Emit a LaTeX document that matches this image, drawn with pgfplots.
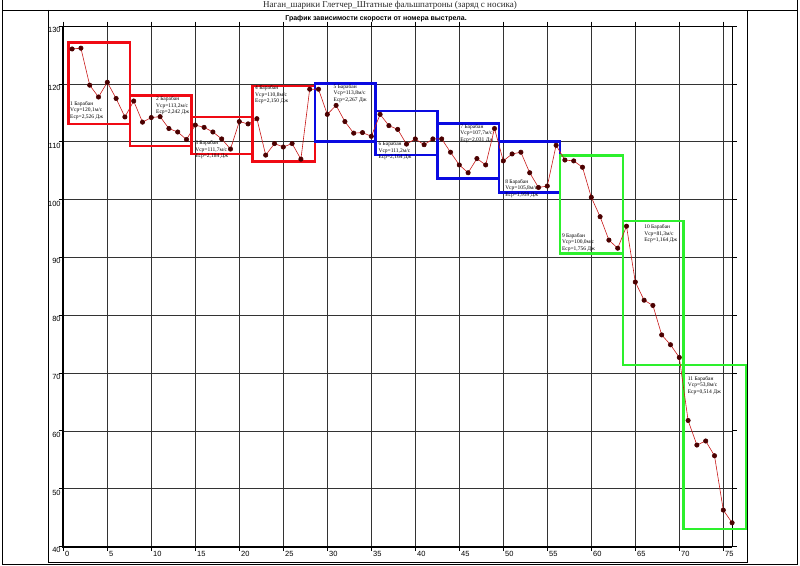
\documentclass[border=0pt]{standalone}
\usepackage{fontspec}
\setmainfont{Liberation Serif}
\newfontfamily\sansf{Liberation Sans}
\usepackage{pgfplots}
\pgfplotsset{compat=1.18}
\definecolor{boxred}{RGB}{240,10,20}
\definecolor{boxblue}{RGB}{10,10,225}
\definecolor{boxgreen}{RGB}{45,240,45}
\definecolor{lnred}{RGB}{200,25,25}
\definecolor{mk}{RGB}{75,0,0}
\begin{document}
\begin{tikzpicture}[x=1pt,y=1pt]
\useasboundingbox (0,0) rectangle (800,565);
\draw[line width=0.8pt] (2,1) rectangle (797.5,567);
\draw[line width=0.8pt] (2,555) -- (797.5,555);
\draw[line width=0.8pt] (48,555) -- (48,2.5) -- (747,2.5) -- (747,555);
\node[font=\fontsize{9}{10}\selectfont, text=black!85] at (390,559.5) {Наган\_шарики Глетчер\_Штатные фальшпатроны (заряд с носика)};
\node[font=\sansf\bfseries\fontsize{7}{8}\selectfont] at (376,546) {График зависимости скорости от номера выстрела.};
\begin{axis}[at={(63.3pt,18.5pt)}, anchor=south west, scale only axis,
  width=668.8pt, height=520.3pt,
  xmin=0, xmax=76, ymin=40, ymax=130,
  xtick={0,5,...,75}, ytick={40,50,...,130},
  grid=major, grid style={black!80, line width=0.7pt},
  axis line style={black, line width=0.7pt},
  tick align=outside, major tick length=4.5pt,
  tick style={black, line width=0.8pt},
  clip=false,
  /pgf/number format/assume math mode=true,
  ticklabel style={font=\sansf\fontsize{7.5}{8}\selectfont, inner sep=0pt},
  xticklabel style={anchor=north west, xshift=1.7pt, yshift=-0.5pt},
  yticklabel style={anchor=north east, xshift=2pt, yshift=-1pt},
]
\draw[line width=2pt, black] (rel axis cs:0,1) -- (rel axis cs:0,0) -- (rel axis cs:1,0);
% boxes
\draw[boxred, line width=2.6pt] (axis cs:0.6,113.1) rectangle (axis cs:7.6,127.2);
\draw[boxred, line width=2.6pt] (axis cs:7.6,109.3) rectangle (axis cs:14.6,118.0);
\draw[boxred, line width=2.6pt] (axis cs:14.6,107.9) rectangle (axis cs:21.5,114.3);
\draw[boxred, line width=2.6pt] (axis cs:21.5,106.55) rectangle (axis cs:28.6,119.65);
\draw[boxblue, line width=2.6pt] (axis cs:28.6,110.05) rectangle (axis cs:35.45,120.05);
\draw[boxblue, line width=2.6pt] (axis cs:35.45,107.7) rectangle (axis cs:42.5,115.3);
\draw[boxblue, line width=2.6pt] (axis cs:42.5,103.7) rectangle (axis cs:49.5,113.2);
\draw[boxblue, line width=2.6pt] (axis cs:49.5,101.2) rectangle (axis cs:56.45,110.1);
\draw[boxgreen, line width=2.6pt] (axis cs:56.45,90.65) rectangle (axis cs:63.6,107.6);
\draw[boxgreen, line width=2.6pt] (axis cs:63.6,71.4) rectangle (axis cs:70.5,96.3);
\draw[boxgreen, line width=2.6pt] (axis cs:70.5,43.05) rectangle (axis cs:77.6,71.4);
% labels
\begin{scope}[every node/.style={anchor=north west, align=left, inner sep=0pt, font=\fontsize{5.5}{6.5}\selectfont}]
\node at (axis cs:0.76,117.06) {1 Барабан\\Vср=120,1м/с\\Еср=2,526 Дж};
\node at (axis cs:10.53,117.8) {2 Барабан\\Vср=113,2м/с\\Еср=2,242 Дж};
\node at (axis cs:14.98,110.2) {3 Барабан\\Vср=111,7м/с\\Еср=2,184 Дж};
\node at (axis cs:21.78,119.7) {4 Барабан\\Vср=110,8м/с\\Еср=2,150 Дж};
\node at (axis cs:30.7,120.0) {5 Барабан\\Vср=113,8м/с\\Еср=2,267 Дж};
\node at (axis cs:35.8,110.05) {6 Барабан\\Vср=111,2м/с\\Еср=2,164 Дж};
\node at (axis cs:45.1,113.1) {7 Барабан\\Vср=107,7м/с\\Еср=2,031 Дж};
\node at (axis cs:50.2,103.55) {8 Барабан\\Vср=105,8м/с\\Еср=1,959 Дж};
\node at (axis cs:56.65,94.2) {9 Барабан\\Vср=100,0м/с\\Еср=1,756 Дж};
\node at (axis cs:66.0,95.7) {10 Барабан\\Vср=81,3м/с\\Еср=1,164 Дж};
\node at (axis cs:70.95,69.5) {11 Барабан\\Vср=53,8м/с\\Еср=0,514 Дж};
\end{scope}
\addplot[color=lnred, line width=0.6pt, mark=*, mark size=2.2pt, mark options={fill=mk, draw=mk}] coordinates {
(1,126.06) (2,126.2) (3,119.8) (4,117.75) (5,120.3) (6,117.5) (7,114.3)
(8,117.06) (9,113.4) (10,114.2) (11,114.35) (12,112.3) (13,111.7) (14,110.4)
(15,112.9) (16,112.5) (17,111.7) (18,110.5) (19,108.75) (20,113.5) (21,113.1)
(22,114.0) (23,107.7) (24,109.7) (25,109.1) (26,109.7) (27,107.0) (28,119.1)
(29,119.1) (30,114.75) (31,116.3) (32,113.5) (33,111.5) (34,111.6) (35,110.95)
(36,114.75) (37,112.8) (38,112.15) (39,109.6) (40,110.5) (41,109.5) (42,110.5)
(43,110.5) (44,108.2) (45,106.0) (46,104.65) (47,107.1) (48,106.0) (49,112.3)
(50,106.7) (51,107.9) (52,108.2) (53,104.65) (54,102.1) (55,102.35) (56,109.4)
(57,106.85) (58,106.7) (59,105.6) (60,100.4) (61,97.05) (62,93.0) (63,91.6)
(64,95.4) (65,85.75) (66,82.6) (67,81.7) (68,76.6) (69,74.9) (70,72.7)
(71,61.8) (72,57.55) (73,58.25) (74,55.7) (75,46.3) (76,44.1)
};
\end{axis}
\end{tikzpicture}
\end{document}
